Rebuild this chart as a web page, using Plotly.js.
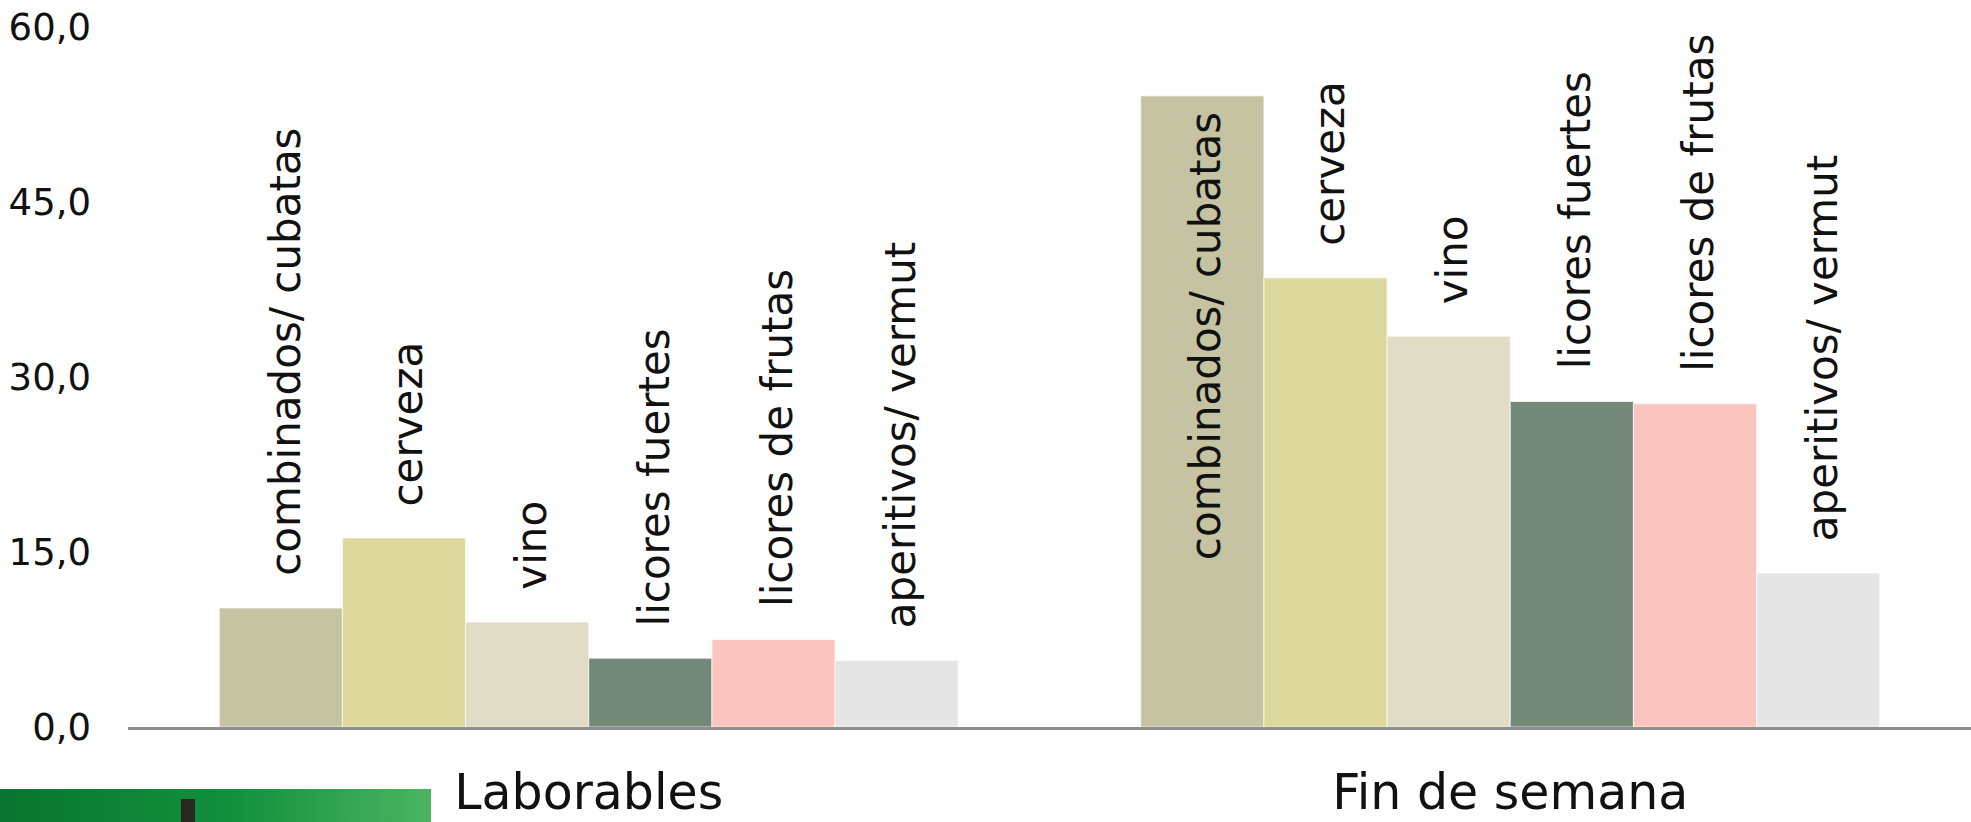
<!DOCTYPE html>
<html>
<head>
<meta charset="utf-8">
<script src="https://cdn.plot.ly/plotly-3.0.1.min.js"></script>
<style>
  html, body { margin: 0; padding: 0; background: #ffffff; }
  #chart { width: 1971px; height: 822px; }
</style>
</head>
<body>
<div id="chart"></div>
<script>
// ---- Data ----
const categories = ["Laborables", "Fin de semana"];
const drinkNames = ["combinados/ cubatas", "cerveza", "vino", "licores fuertes", "licores de frutas", "aperitivos/ vermut"];
const combinados = [10.2, 54.1];
const cerveza = [16.2, 38.5];
const vino = [9.0, 33.5];
const licoresFuertes = [5.9, 27.9];
const licoresFrutas = [7.5, 27.7];
const aperitivos = [5.7, 13.2];
const yTickVals = [0, 15, 30, 45, 60];
const yTickText = ["0,0", "15,0", "30,0", "45,0", "60,0"];

// ---- Styles ----
const seriesValues = [combinados, cerveza, vino, licoresFuertes, licoresFrutas, aperitivos];
const seriesColors = ["#c6c3a2", "#ddd99d", "#e0dcc6", "#74887a", "#f9c5be", "#e5e5e5"];
const W = 1971, H = 822;
const M = { l: 128, r: 0, t: 27, b: 95 };
const bargap = 0.198;
const labelFont = { family: "DejaVu Sans", size: 42, color: "#111111" };
const labelGap = 30;

const traces = seriesValues.map((vals, i) => ({
  type: "bar",
  name: drinkNames[i],
  x: categories,
  y: vals,
  marker: { color: seriesColors[i], line: { color: "rgba(255,255,255,0.7)", width: 1 } },
  showlegend: false,
  hoverinfo: "skip"
}));

// measure label lengths to decide whether a label fits above its bar
const cv = document.createElement("canvas").getContext("2d");
cv.font = labelFont.size + "px '" + labelFont.family + "'";
const plotH = H - M.t - M.b;
const yMax = yTickVals[yTickVals.length - 1];
const pxPerUnit = plotH / yMax;

const annotations = [];
const n = seriesValues.length;
const groupW = 1 - bargap;
seriesValues.forEach((vals, i) => {
  vals.forEach((v, g) => {
    const xPos = g - groupW / 2 + groupW / n * (i + 0.5);
    const len = cv.measureText(drinkNames[i]).width;
    const spaceAbove = (yMax - v) * pxPerUnit + M.t;
    const fits = spaceAbove - labelGap - len > 0;
    annotations.push({
      x: xPos, y: v, xref: "x", yref: "y",
      text: drinkNames[i],
      textangle: -90,
      showarrow: false,
      xanchor: "center",
      yanchor: fits ? "bottom" : "top",
      yshift: fits ? labelGap : -14,
      xshift: 4,
      font: labelFont
    });
  });
});

// decorative green logo strip at the bottom-left (partial image in the original)
const pw = W - M.l - M.r;
const svg = "<svg xmlns='http://www.w3.org/2000/svg' width='431' height='33' viewBox='0 0 431 33'>" +
  "<defs><linearGradient id='g' x1='0' x2='1' y1='0' y2='0'>" +
  "<stop offset='0' stop-color='#0a7530'/><stop offset='0.55' stop-color='#13903e'/><stop offset='1' stop-color='#4cb562'/>" +
  "</linearGradient></defs>" +
  "<rect width='431' height='33' fill='url(#g)'/>" +
  "<rect x='181' y='10' width='14' height='23' fill='#2a2620'/></svg>";
const logoSrc = "data:image/svg+xml;charset=utf-8," + encodeURIComponent(svg);

const layout = {
  width: W,
  height: H,
  margin: M,
  paper_bgcolor: "#ffffff",
  plot_bgcolor: "#ffffff",
  barmode: "group",
  bargap: bargap,
  bargroupgap: 0,
  showlegend: false,
  xaxis: {
    type: "category",
    range: [-0.5, 1.5],
    showgrid: false,
    zeroline: false,
    showline: true,
    linecolor: "#8f8f8f",
    linewidth: 3,
    ticks: "",
    tickfont: { family: "DejaVu Sans", size: 49, color: "#111111" },
    ticklabelstandoff: 20,
    fixedrange: true
  },
  yaxis: {
    range: [0, yMax],
    showgrid: false,
    zeroline: false,
    showline: false,
    ticks: "",
    tickvals: yTickVals,
    ticktext: yTickText,
    tickfont: { family: "DejaVu Sans", size: 37, color: "#111111" },
    ticklabelstandoff: 36,
    fixedrange: true
  },
  annotations: annotations,
  images: [{
    source: logoSrc,
    xref: "paper", yref: "paper",
    x: (0 - M.l) / pw,
    y: (M.t + plotH - 789) / plotH,
    sizex: 431 / pw,
    sizey: 33 / plotH,
    xanchor: "left", yanchor: "top",
    sizing: "stretch",
    layer: "above"
  }]
};

Plotly.newPlot("chart", traces, layout, { displayModeBar: false, staticPlot: true });
</script>
</body>
</html>
